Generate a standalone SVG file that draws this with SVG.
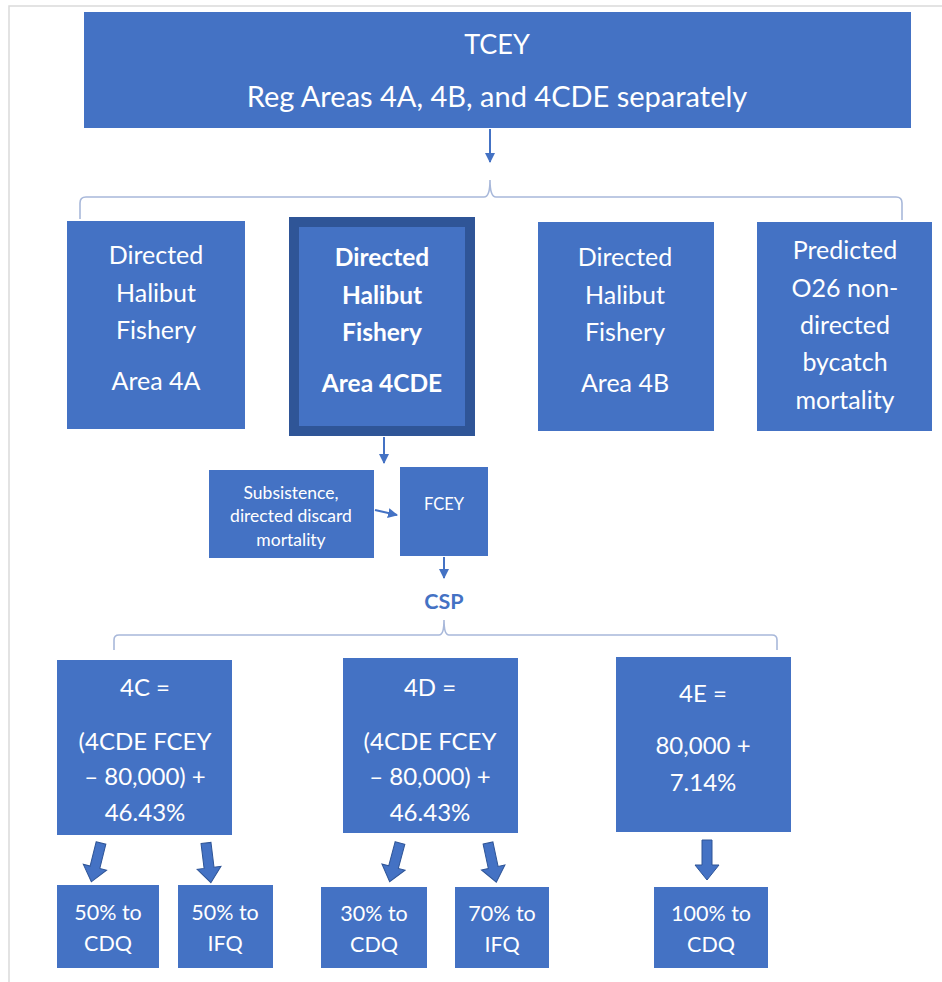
<svg xmlns="http://www.w3.org/2000/svg" width="942" height="982" viewBox="0 0 942 982">
<defs>
<style>
.box{fill:#4472C4;}
.t{font-family:Lato,"Open Sans","Liberation Sans",sans-serif;fill:#ffffff;text-anchor:middle;}
.b{font-weight:bold;}
.brace{fill:none;stroke:#A8B8DA;stroke-width:1.6;}
.thin{fill:none;stroke:#4472C4;stroke-width:2;}
.head{fill:#4472C4;}
.blk{fill:#4472C4;stroke:#2F5597;stroke-width:1;}
</style>
<marker id="ah" viewBox="0 0 10 10" refX="9" refY="5" markerWidth="5" markerHeight="5" orient="auto" markerUnits="strokeWidth">
<path d="M0,0 L10,5 L0,10 z" class="head"/>
</marker>
<polygon id="blkarrow" points="-5,0 5,0 5,25 12,25 0,40 -12,25 -5,25"/>
</defs>
<rect x="0" y="0" width="942" height="982" fill="#ffffff"/>
<path d="M9 982 V6 H942" fill="none" stroke="#DADADA" stroke-width="1.5"/>

<g id="connectors">
<line class="thin" x1="490" y1="129" x2="490" y2="162" marker-end="url(#ah)"/>
<path class="brace" d="M80 219 V203 Q80 197 86 197 H484 Q490 197 490 180 Q490 197 496 197 H896 Q902 197 902 203 V220"/>
<line class="thin" x1="384" y1="437" x2="384" y2="463" marker-end="url(#ah)"/>
<line class="thin" x1="375" y1="510" x2="397" y2="515" marker-end="url(#ah)"/>
<line class="thin" x1="444" y1="557" x2="444" y2="578" marker-end="url(#ah)"/>
<path class="brace" d="M114 650 V640 Q114 635 119 635 H439 Q444 635 444 620 Q444 635 449 635 H772 Q777 635 777 640 V650"/>
<use href="#blkarrow" class="blk" transform="translate(101,843) rotate(14)"/>
<use href="#blkarrow" class="blk" transform="translate(206,843) rotate(-7)"/>
<use href="#blkarrow" class="blk" transform="translate(400,843) rotate(15)"/>
<use href="#blkarrow" class="blk" transform="translate(488,843) rotate(-12)"/>
<use href="#blkarrow" class="blk" transform="translate(707,840)"/>
</g>

<g id="tcey">
<rect class="box" x="84" y="12" width="827" height="116"/>
<text class="t" x="497" y="54" font-size="27">TCEY</text>
<text class="t" x="497" y="107" font-size="29">Reg Areas 4A, 4B, and 4CDE separately</text>
</g>

<g id="area4a">
<rect class="box" x="67" y="221" width="178" height="208"/>
<text class="t" font-size="25"><tspan x="156" y="264">Directed</tspan><tspan x="156" y="302">Halibut</tspan><tspan x="156" y="339">Fishery</tspan><tspan x="156" y="390">Area 4A</tspan></text>
</g>

<g id="area4cde">
<rect x="294" y="222" width="176" height="209" fill="#4472C4" stroke="#2F5597" stroke-width="10"/>
<text class="t b" font-size="24.5"><tspan x="382" y="266">Directed</tspan><tspan x="382" y="304">Halibut</tspan><tspan x="382" y="341">Fishery</tspan><tspan x="382" y="392">Area 4CDE</tspan></text>
</g>

<g id="area4b">
<rect class="box" x="538" y="222" width="176" height="209"/>
<text class="t" font-size="25"><tspan x="625" y="266">Directed</tspan><tspan x="625" y="304">Halibut</tspan><tspan x="625" y="341">Fishery</tspan><tspan x="625" y="392">Area 4B</tspan></text>
</g>

<g id="predicted">
<rect class="box" x="757" y="222" width="175" height="209"/>
<text class="t" font-size="25"><tspan x="845" y="259">Predicted</tspan><tspan x="845" y="297">O26 non-</tspan><tspan x="845" y="334">directed</tspan><tspan x="845" y="371">bycatch</tspan><tspan x="845" y="409">mortality</tspan></text>
</g>

<g id="subsistence">
<rect class="box" x="209" y="470" width="165" height="88"/>
<text class="t" font-size="17.5"><tspan x="291" y="499">Subsistence,</tspan><tspan x="291" y="522">directed discard</tspan><tspan x="291" y="546">mortality</tspan></text>
</g>

<g id="fcey">
<rect class="box" x="400" y="467" width="88" height="89"/>
<text class="t" x="444" y="510" font-size="16.5">FCEY</text>
</g>

<g id="csp">
<text x="444" y="609" font-size="21.5" font-weight="bold" fill="#4472C4" text-anchor="middle" font-family="Lato,'Open Sans','Liberation Sans',sans-serif">CSP</text>
</g>

<g id="area4c">
<rect class="box" x="57" y="660" width="175" height="175"/>
<text class="t" font-size="24"><tspan x="145" y="696">4C =</tspan><tspan x="145" y="750">(4CDE FCEY</tspan><tspan x="145" y="785">– 80,000) +</tspan><tspan x="145" y="821">46.43%</tspan></text>
</g>

<g id="area4d">
<rect class="box" x="343" y="658" width="175" height="175"/>
<text class="t" font-size="24"><tspan x="430" y="696">4D =</tspan><tspan x="430" y="750">(4CDE FCEY</tspan><tspan x="430" y="785">– 80,000) +</tspan><tspan x="430" y="821">46.43%</tspan></text>
</g>

<g id="area4e">
<rect class="box" x="616" y="657" width="175" height="175"/>
<text class="t" font-size="24"><tspan x="703" y="702">4E =</tspan><tspan x="703" y="754">80,000 +</tspan><tspan x="703" y="791">7.14%</tspan></text>
</g>

<g id="c_cdq">
<rect class="box" x="57" y="885" width="102" height="83"/>
<text class="t" font-size="21.5"><tspan x="108" y="920">50% to</tspan><tspan x="108" y="951">CDQ</tspan></text>
</g>
<g id="c_ifq">
<rect class="box" x="178" y="885" width="95" height="83"/>
<text class="t" font-size="21.5"><tspan x="225" y="920">50% to</tspan><tspan x="225" y="951">IFQ</tspan></text>
</g>
<g id="d_cdq">
<rect class="box" x="321" y="887" width="106" height="81"/>
<text class="t" font-size="21.5"><tspan x="374" y="921">30% to</tspan><tspan x="374" y="952">CDQ</tspan></text>
</g>
<g id="d_ifq">
<rect class="box" x="455" y="887" width="94" height="81"/>
<text class="t" font-size="21.5"><tspan x="502" y="921">70% to</tspan><tspan x="502" y="952">IFQ</tspan></text>
</g>
<g id="e_cdq">
<rect class="box" x="654" y="887" width="114" height="81"/>
<text class="t" font-size="21.5"><tspan x="711" y="921">100% to</tspan><tspan x="711" y="952">CDQ</tspan></text>
</g>
</svg>
